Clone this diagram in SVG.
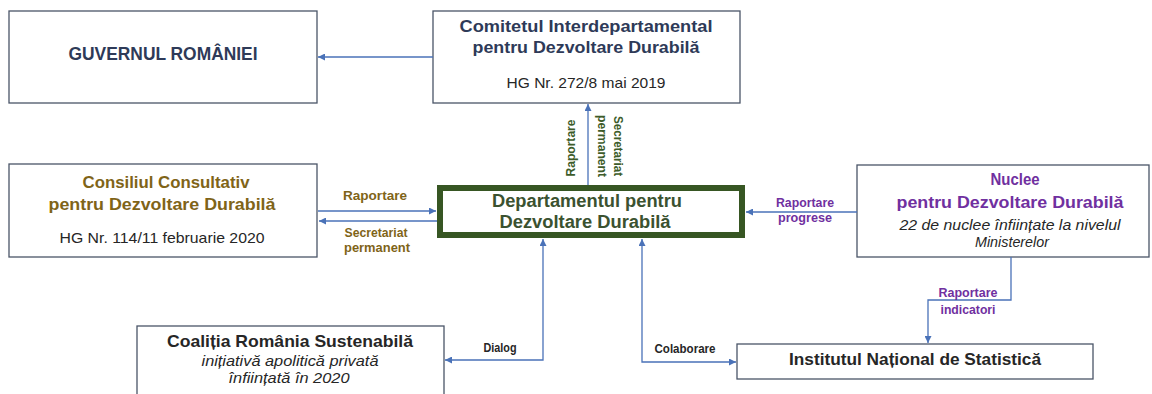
<svg xmlns="http://www.w3.org/2000/svg" width="1152" height="394" viewBox="0 0 1152 394">
<defs>
<marker id="ah" viewBox="0 0 10 10" refX="10" refY="5" markerWidth="7" markerHeight="7" markerUnits="userSpaceOnUse" orient="auto-start-reverse">
<path d="M0,0 L10,5 L0,10 z" fill="#4a72b8"/>
</marker>
<style>
.box{fill:#fff;stroke:#4a5568;stroke-width:1.3}
.t{font-family:"Liberation Sans",Arial,sans-serif;text-anchor:middle}
.b{font-weight:bold}
.i{font-style:italic}
.navy{fill:#2e3a58}
.gold{fill:#7f6418}
.green{fill:#3b5230}
.dgreen{fill:#3d5c2a}
.purple{fill:#7030a0}
.dark{fill:#262626}
.conn{fill:none;stroke:#4a72b8;stroke-width:1.3}
</style>
</defs>
<rect width="1152" height="394" fill="#fff"/>

<g id="guvernul">
<rect class="box" x="9" y="11" width="308" height="92"/>
<text class="t b navy" font-size="18" x="163" y="60" textLength="189" lengthAdjust="spacingAndGlyphs">GUVERNUL ROMÂNIEI</text>
</g>

<g id="comitetul">
<rect class="box" x="433" y="11" width="307" height="92"/>
<text class="t b navy" font-size="17" x="586" y="32" textLength="253" lengthAdjust="spacingAndGlyphs">Comitetul Interdepartamental</text>
<text class="t b navy" font-size="17" x="586" y="53" textLength="227" lengthAdjust="spacingAndGlyphs">pentru Dezvoltare Durabilă</text>
<text class="t dark" font-size="15" x="586" y="88" textLength="159" lengthAdjust="spacingAndGlyphs">HG Nr. 272/8 mai 2019</text>
</g>

<g id="consiliul">
<rect class="box" x="9" y="164" width="308" height="93"/>
<text class="t b gold" font-size="17" x="166" y="188" textLength="167" lengthAdjust="spacingAndGlyphs">Consiliul Consultativ</text>
<text class="t b gold" font-size="17" x="162" y="210" textLength="227" lengthAdjust="spacingAndGlyphs">pentru Dezvoltare Durabilă</text>
<text class="t dark" font-size="15" x="162" y="243" textLength="205" lengthAdjust="spacingAndGlyphs">HG Nr. 114/11 februarie 2020</text>
</g>

<g id="departamentul">
<rect x="440" y="188" width="302" height="47" fill="#fff" stroke="#375623" stroke-width="6"/>
<text class="t b green" font-size="18" x="587" y="207" textLength="190" lengthAdjust="spacingAndGlyphs">Departamentul pentru</text>
<text class="t b green" font-size="18" x="585" y="228" textLength="171" lengthAdjust="spacingAndGlyphs">Dezvoltare Durabilă</text>
</g>

<g id="nuclee">
<rect class="box" x="857" y="165" width="292" height="92"/>
<text class="t b purple" font-size="17" x="1015" y="185" textLength="49" lengthAdjust="spacingAndGlyphs">Nuclee</text>
<text class="t b purple" font-size="17" x="1010" y="208" textLength="227" lengthAdjust="spacingAndGlyphs">pentru Dezvoltare Durabilă</text>
<text class="t i dark" font-size="15" x="1010" y="230" textLength="221" lengthAdjust="spacingAndGlyphs">22 de nuclee înființate la nivelul</text>
<text class="t i dark" font-size="15" x="1012" y="247" textLength="74" lengthAdjust="spacingAndGlyphs">Ministerelor</text>
</g>

<g id="institutul">
<rect class="box" x="737" y="344" width="356" height="35"/>
<text class="t b dark" font-size="17" x="915" y="365" textLength="252" lengthAdjust="spacingAndGlyphs">Institutul Național de Statistică</text>
</g>

<g id="coalitia">
<rect class="box" x="137" y="326" width="307" height="80"/>
<text class="t b dark" font-size="17" x="290" y="347" textLength="246" lengthAdjust="spacingAndGlyphs">Coaliția România Sustenabilă</text>
<text class="t i dark" font-size="15" x="290" y="366" textLength="177" lengthAdjust="spacingAndGlyphs">inițiativă apolitică privată</text>
<text class="t i dark" font-size="15" x="289" y="383" textLength="121" lengthAdjust="spacingAndGlyphs">înființată în 2020</text>
</g>

<g id="connectors">
<line class="conn" x1="433" y1="57" x2="318" y2="57" marker-end="url(#ah)"/>
<line class="conn" x1="588" y1="185" x2="588" y2="104" marker-end="url(#ah)"/>
<line class="conn" x1="318" y1="211" x2="436" y2="211" marker-end="url(#ah)"/>
<line class="conn" x1="437" y1="221" x2="319" y2="221" marker-end="url(#ah)"/>
<line class="conn" x1="857" y1="212" x2="746" y2="212" marker-end="url(#ah)"/>
<polyline class="conn" points="1011,257 1011,300 928,300 928,343" marker-end="url(#ah)"/>
<polyline class="conn" points="543,239 543,360 445,360" marker-start="url(#ah)" marker-end="url(#ah)"/>
<polyline class="conn" points="642,239 642,362 736,362" marker-start="url(#ah)" marker-end="url(#ah)"/>
<text class="t b dgreen" font-size="12" transform="translate(575,148) rotate(-90)" textLength="57" lengthAdjust="spacingAndGlyphs">Raportare</text>
<text class="t b dgreen" font-size="12" transform="translate(598,146) rotate(90)" textLength="62" lengthAdjust="spacingAndGlyphs">permanent</text>
<text class="t b dgreen" font-size="12" transform="translate(614,146) rotate(90)" textLength="60" lengthAdjust="spacingAndGlyphs">Secretariat</text>
<text class="t b gold" font-size="12" x="375" y="200" textLength="64" lengthAdjust="spacingAndGlyphs">Raportare</text>
<text class="t b gold" font-size="12" x="376" y="237" textLength="63" lengthAdjust="spacingAndGlyphs">Secretariat</text>
<text class="t b gold" font-size="12" x="377" y="252" textLength="66" lengthAdjust="spacingAndGlyphs">permanent</text>
<text class="t b purple" font-size="12" x="805" y="207" textLength="58" lengthAdjust="spacingAndGlyphs">Raportare</text>
<text class="t b purple" font-size="12" x="805" y="222" textLength="54" lengthAdjust="spacingAndGlyphs">progrese</text>
<text class="t b purple" font-size="12" x="968" y="297" textLength="59" lengthAdjust="spacingAndGlyphs">Raportare</text>
<text class="t b purple" font-size="12" x="968" y="314" textLength="55" lengthAdjust="spacingAndGlyphs">indicatori</text>
<text class="t b dark" font-size="12" x="685" y="353" textLength="61" lengthAdjust="spacingAndGlyphs">Colaborare</text>
<text class="t b dark" font-size="12" x="500" y="352" textLength="33" lengthAdjust="spacingAndGlyphs">Dialog</text>
</g>
</svg>
